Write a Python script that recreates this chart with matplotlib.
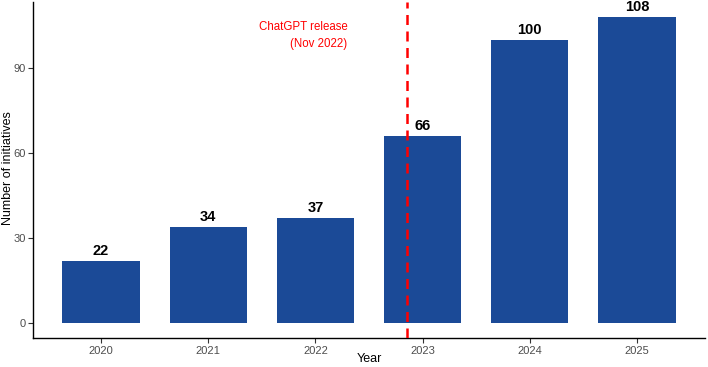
import matplotlib
matplotlib.use("Agg")
import matplotlib.pyplot as plt

years = [2020, 2021, 2022, 2023, 2024, 2025]
counts = [22, 34, 37, 66, 100, 108]
yticks = [0, 30, 60, 90]
release_x = 2022.85
release_label = "ChatGPT release\n(Nov 2022)"

plt.rcParams['font.family'] = ['Liberation Sans', 'DejaVu Sans']

W, H = 708, 367
fig = plt.figure(figsize=(W/100, H/100), dpi=100)
ax_left, ax_right, ax_bottom, ax_top = 33, 705, 338, 2
ax = fig.add_axes([ax_left/W, (H-ax_bottom)/H, (ax_right-ax_left)/W, (ax_bottom-ax_top)/H])

ax.bar(years, counts, width=0.72, color="#1B4A97", zorder=2)
for x, v in zip(years, counts):
    ax.text(x, v + 1.0, str(v), ha="center", va="bottom", fontsize=10.5,
            fontweight="bold", color="black", zorder=4)

ax.axvline(release_x, color="red", linestyle=(0, (4, 2.6)), linewidth=1.8, zorder=3)
ax.text(release_x - 0.55, 106.8, release_label, ha="right", va="top",
        color="red", fontsize=8.3, linespacing=1.6)

ax.set_xlim(2019.365, 2025.635)
ax.set_ylim(-5.4, 113.4)
ax.set_xticks(years)
ax.set_xticklabels([str(y) for y in years])
ax.set_yticks(yticks)
for s in ["top", "right"]:
    ax.spines[s].set_visible(False)
for s in ["left", "bottom"]:
    ax.spines[s].set_linewidth(1.0)
ax.tick_params(axis="both", direction="out", length=3.5, width=0.8,
               labelsize=8, labelcolor="#4d4d4d", color="#333333")
ax.tick_params(axis="x", pad=2.5)
ax.tick_params(axis="y", pad=1.5)
ax.set_xlabel("Year", fontsize=9)
ax.set_ylabel("Number of initiatives", fontsize=9)
axw, axh = ax_right - ax_left, ax_bottom - ax_top
ax.xaxis.set_label_coords(0.5, -(359 - ax_bottom) / axh)
ax.yaxis.set_label_coords(-(ax_left - 8) / axw, (ax_bottom - 168) / axh)
ax.xaxis.label.set_va("center")
ax.yaxis.label.set_va("center")

fig.savefig("out.png", dpi=100)
